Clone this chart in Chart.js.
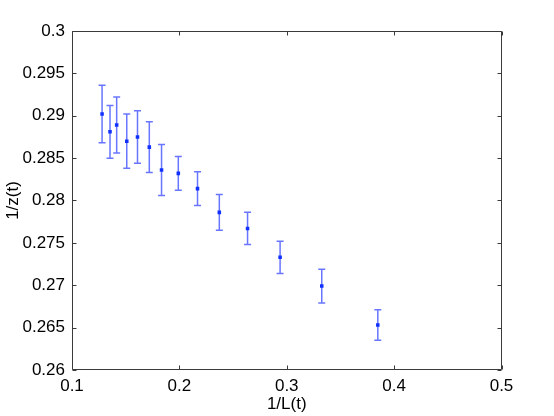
<!DOCTYPE html>
<html>
<head>
<meta charset="utf-8">
<script src="https://cdn.jsdelivr.net/npm/chart.js@4/dist/chart.umd.min.js"></script>
<style>
  html, body { margin: 0; padding: 0; background: #ffffff; }
  #wrap { width: 554px; height: 416px; }
</style>
</head>
<body>
<div id="wrap"><canvas id="c" width="554" height="416"></canvas></div>
<script>
// ---- data ----
const invL = [0.128, 0.1354, 0.1416, 0.151, 0.161, 0.172, 0.1834, 0.199, 0.2169, 0.2372, 0.2635, 0.2938, 0.3326, 0.3848];
const invZ = [0.2902, 0.2881, 0.2889, 0.2870, 0.2875, 0.2863, 0.2836, 0.2832, 0.2814, 0.2786, 0.2767, 0.2733, 0.2699, 0.2653];
const errZ = [0.0034, 0.0031, 0.0033, 0.0032, 0.0031, 0.0030, 0.0030, 0.0020, 0.0020, 0.0021, 0.0019, 0.0019, 0.0020, 0.0018];
const xTickValues = [0.1, 0.2, 0.3, 0.4, 0.5];
const xTickLabels = ["0.1", "0.2", "0.3", "0.4", "0.5"];
const yTickValues = [0.26, 0.265, 0.27, 0.275, 0.28, 0.285, 0.29, 0.295, 0.3];
const yTickLabels = ["0.26", "0.265", "0.27", "0.275", "0.28", "0.285", "0.29", "0.295", "0.3"];
const xTitle = "1/L(t)";
const yTitle = "1/z(t)";

const points = invL.map((x, i) => ({ x: x, y: invZ[i] }));
const FONT = "'Liberation Sans', Arial, Helvetica, sans-serif";

const errorBarPlugin = {
  id: 'errorBars',
  beforeDatasetsDraw(chart) {
    const ctx = chart.ctx;
    const xs = chart.scales.x, ys = chart.scales.y;
    ctx.save();
    ctx.strokeStyle = 'rgba(40,60,255,0.7)';
    ctx.lineWidth = 1.5;
    const cap = 3.5;
    for (let i = 0; i < invL.length; i++) {
      const px = xs.getPixelForValue(invL[i]);
      const pTop = ys.getPixelForValue(invZ[i] + errZ[i]);
      const pBot = ys.getPixelForValue(invZ[i] - errZ[i]);
      ctx.beginPath();
      ctx.moveTo(px, pTop); ctx.lineTo(px, pBot);
      ctx.moveTo(px - cap, pTop); ctx.lineTo(px + cap, pTop);
      ctx.moveTo(px - cap, pBot); ctx.lineTo(px + cap, pBot);
      ctx.stroke();
    }
    ctx.restore();
  },
  afterDraw(chart) {
    const ctx = chart.ctx;
    const a = chart.chartArea;
    const xs = chart.scales.x, ys = chart.scales.y;
    ctx.save();
    ctx.strokeStyle = '#3a3a3a';
    ctx.lineWidth = 1;
    const L = Math.round(a.left) + 0.5, R = Math.round(a.right) - 0.5;
    const T = Math.round(a.top) + 0.5, B = Math.round(a.bottom) - 0.5;
    ctx.beginPath();
    ctx.rect(L, T, R - L, B - T);
    const tl = 4;
    xTickValues.forEach(v => {
      const px = Math.round(xs.getPixelForValue(v)) + 0.5;
      ctx.moveTo(px, B); ctx.lineTo(px, B - tl);
      ctx.moveTo(px, T); ctx.lineTo(px, T + tl);
    });
    yTickValues.forEach(v => {
      const py = Math.round(ys.getPixelForValue(v)) + 0.5;
      ctx.moveTo(L, py); ctx.lineTo(L + tl, py);
      ctx.moveTo(R, py); ctx.lineTo(R - tl, py);
    });
    ctx.stroke();
    ctx.restore();
  }
};

new Chart(document.getElementById('c'), {
  type: 'scatter',
  data: {
    datasets: [{
      data: points,
      pointStyle: 'rect',
      pointRadius: 2.5,
      pointHoverRadius: 2.5,
      backgroundColor: '#1030ff',
      borderColor: '#1030ff',
      borderWidth: 0,
      showLine: false
    }]
  },
  options: {
    responsive: false,
    animation: false,
    devicePixelRatio: 1,
    layout: { padding: { left: 0, right: 52.5, top: 31, bottom: 0 } },
    plugins: { legend: { display: false }, tooltip: { enabled: false } },
    scales: {
      x: {
        type: 'linear',
        min: 0.1, max: 0.5,
        afterFit(s) { s.height = 46; },
        afterBuildTicks(s) { s.ticks = xTickValues.map(v => ({ value: v })); },
        grid: { display: false, drawTicks: false },
        border: { display: false },
        ticks: {
          padding: 6,
          color: '#000',
          font: { family: FONT, size: 17 },
          maxRotation: 0,
          callback: (v, i) => xTickLabels[i]
        },
        title: {
          display: true, text: xTitle, color: '#000',
          font: { family: FONT, size: 17 },
          padding: { top: 0, bottom: 1 }
        }
      },
      y: {
        type: 'linear',
        min: 0.26, max: 0.3,
        afterFit(s) { s.width = 72; },
        afterBuildTicks(s) { s.ticks = yTickValues.map(v => ({ value: v })); },
        grid: { display: false, drawTicks: false },
        border: { display: false },
        ticks: {
          padding: 7,
          color: '#000',
          font: { family: FONT, size: 17 },
          callback: (v, i) => yTickLabels[i]
        },
        title: {
          display: true, text: yTitle, color: '#000',
          font: { family: FONT, size: 17 },
          padding: { top: 3, bottom: 0 }
        }
      }
    }
  },
  plugins: [errorBarPlugin]
});
</script>
</body>
</html>
